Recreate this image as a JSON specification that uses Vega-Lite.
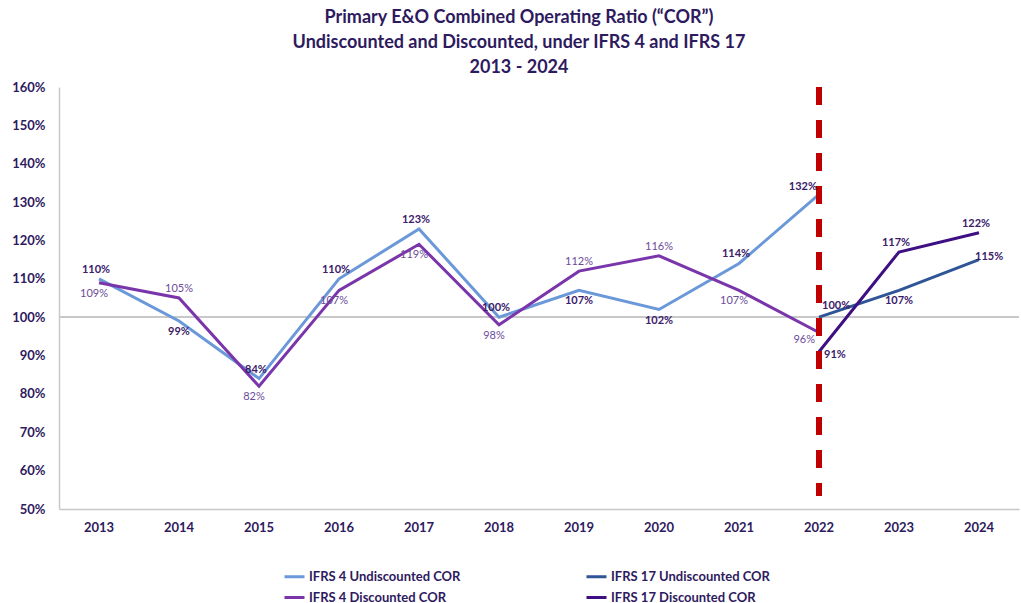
{
  "$schema": "https://vega.github.io/schema/vega-lite/v6.json",
  "width": 960,
  "height": 422,
  "autosize": {"type": "none"},
  "padding": {"left": 59, "top": 87, "right": 2, "bottom": 94},
  "background": "white",
  "title": {
    "text": ["Primary E&O Combined Operating Ratio (\u201cCOR\u201d)", "Undiscounted and Discounted, under IFRS 4 and IFRS 17", "2013 - 2024"],
    "font": "Lato",
    "fontSize": 18,
    "fontWeight": "bold",
    "color": "#2e1a5e",
    "lineHeight": 25,
    "anchor": "middle",
    "dx": -20,
    "offset": 4
  },
  "data": {
    "values": [
      {"year": "2013", "series": "IFRS 4 Undiscounted COR", "standard": "IFRS 4", "value": 110},
      {"year": "2014", "series": "IFRS 4 Undiscounted COR", "standard": "IFRS 4", "value": 99},
      {"year": "2015", "series": "IFRS 4 Undiscounted COR", "standard": "IFRS 4", "value": 84},
      {"year": "2016", "series": "IFRS 4 Undiscounted COR", "standard": "IFRS 4", "value": 110},
      {"year": "2017", "series": "IFRS 4 Undiscounted COR", "standard": "IFRS 4", "value": 123},
      {"year": "2018", "series": "IFRS 4 Undiscounted COR", "standard": "IFRS 4", "value": 100},
      {"year": "2019", "series": "IFRS 4 Undiscounted COR", "standard": "IFRS 4", "value": 107},
      {"year": "2020", "series": "IFRS 4 Undiscounted COR", "standard": "IFRS 4", "value": 102},
      {"year": "2021", "series": "IFRS 4 Undiscounted COR", "standard": "IFRS 4", "value": 114},
      {"year": "2022", "series": "IFRS 4 Undiscounted COR", "standard": "IFRS 4", "value": 132},
      {"year": "2013", "series": "IFRS 4 Discounted COR", "standard": "IFRS 4", "value": 109},
      {"year": "2014", "series": "IFRS 4 Discounted COR", "standard": "IFRS 4", "value": 105},
      {"year": "2015", "series": "IFRS 4 Discounted COR", "standard": "IFRS 4", "value": 82},
      {"year": "2016", "series": "IFRS 4 Discounted COR", "standard": "IFRS 4", "value": 107},
      {"year": "2017", "series": "IFRS 4 Discounted COR", "standard": "IFRS 4", "value": 119},
      {"year": "2018", "series": "IFRS 4 Discounted COR", "standard": "IFRS 4", "value": 98},
      {"year": "2019", "series": "IFRS 4 Discounted COR", "standard": "IFRS 4", "value": 112},
      {"year": "2020", "series": "IFRS 4 Discounted COR", "standard": "IFRS 4", "value": 116},
      {"year": "2021", "series": "IFRS 4 Discounted COR", "standard": "IFRS 4", "value": 107},
      {"year": "2022", "series": "IFRS 4 Discounted COR", "standard": "IFRS 4", "value": 96},
      {"year": "2022", "series": "IFRS 17 Undiscounted COR", "standard": "IFRS 17", "value": 100},
      {"year": "2023", "series": "IFRS 17 Undiscounted COR", "standard": "IFRS 17", "value": 107},
      {"year": "2024", "series": "IFRS 17 Undiscounted COR", "standard": "IFRS 17", "value": 115},
      {"year": "2022", "series": "IFRS 17 Discounted COR", "standard": "IFRS 17", "value": 91},
      {"year": "2023", "series": "IFRS 17 Discounted COR", "standard": "IFRS 17", "value": 117},
      {"year": "2024", "series": "IFRS 17 Discounted COR", "standard": "IFRS 17", "value": 122}
    ]
  },
  "transform": [
    {"joinaggregate": [{"op": "max", "field": "value", "as": "maxv"}], "groupby": ["year", "standard"]},
    {"calculate": "datum.value + '%'", "as": "label"}
  ],
  "encoding": {
    "x": {"field": "year", "type": "ordinal", "title": null, "axis": {"labelAngle": 0, "labelPadding": 12}},
    "y": {
      "field": "value", "type": "quantitative", "title": null,
      "scale": {"domain": [50, 160], "nice": false, "zero": false},
      "axis": {"values": [50, 60, 70, 80, 90, 100, 110, 120, 130, 140, 150, 160], "labelExpr": "datum.value + '%'", "labelPadding": 14, "labelOverlap": false, "labelFlush": false, "labelBound": false, "labelSeparation": 0}
    }
  },
  "layer": [
    {
      "mark": {"type": "rule", "color": "#c8c8c8", "strokeWidth": 1.5},
      "encoding": {"x": null, "y": {"datum": 100, "type": "quantitative"}}
    },
    {
      "mark": {"type": "line", "strokeWidth": 3},
      "encoding": {
        "color": {
          "field": "series", "type": "nominal",
          "scale": {
            "domain": ["IFRS 4 Undiscounted COR", "IFRS 4 Discounted COR", "IFRS 17 Undiscounted COR", "IFRS 17 Discounted COR"],
            "range": ["#6a98d8", "#7a35aa", "#2f5597", "#3d0f82"]
          },
          "legend": {
            "title": null,
            "orient": "none",
            "legendX": 224,
            "legendY": 478,
            "columns": 2,
            "columnPadding": 119,
            "rowPadding": 2,
            "symbolType": "stroke",
            "symbolSize": 400,
            "symbolStrokeWidth": 3,
            "labelOffset": 3,
            "labelFont": "Lato",
            "labelFontSize": 13,
            "labelFontWeight": "bold",
            "labelColor": "#2e1a5e",
            "labelLimit": 300
          }
        },
        "detail": {"field": "series"}
      }
    },
    {
      "mark": {"type": "rule", "color": "#c00000", "strokeWidth": 5, "strokeDash": [18, 15]},
      "encoding": {
        "x": {"datum": "2022", "type": "ordinal"},
        "y": {"datum": 160, "type": "quantitative"},
        "y2": {"datum": 53.5}
      }
    },
    {
      "transform": [{"filter": "datum.year != '2022' && datum.series != 'IFRS 4 Discounted COR' && datum.value == datum.maxv"}],
      "mark": {"type": "text", "font": "Lato", "fontSize": 11, "fontWeight": "bold", "color": "#3b2069", "dy": -9, "dx": -3},
      "encoding": {"text": {"field": "label", "type": "nominal"}}
    },
    {
      "transform": [{"filter": "datum.year != '2022' && datum.year != '2024' && datum.series != 'IFRS 4 Discounted COR' && datum.value < datum.maxv"}],
      "mark": {"type": "text", "font": "Lato", "fontSize": 11, "fontWeight": "bold", "color": "#3b2069", "dy": 11},
      "encoding": {"text": {"field": "label", "type": "nominal"}}
    },
    {
      "transform": [{"filter": "datum.year == '2024' && datum.series == 'IFRS 17 Undiscounted COR'"}],
      "mark": {"type": "text", "font": "Lato", "fontSize": 11, "fontWeight": "bold", "color": "#3b2069", "align": "left", "dx": -4, "dy": -3},
      "encoding": {"text": {"field": "label", "type": "nominal"}}
    },
    {
      "transform": [{"filter": "datum.year != '2022' && datum.series == 'IFRS 4 Discounted COR' && datum.value == datum.maxv"}],
      "mark": {"type": "text", "font": "Lato", "fontSize": 11, "color": "#6b4c9a", "dy": -9},
      "encoding": {"text": {"field": "label", "type": "nominal"}}
    },
    {
      "transform": [{"filter": "datum.year != '2022' && datum.series == 'IFRS 4 Discounted COR' && datum.value < datum.maxv"}],
      "mark": {"type": "text", "font": "Lato", "fontSize": 11, "color": "#6b4c9a", "dy": 11, "dx": -5},
      "encoding": {"text": {"field": "label", "type": "nominal"}}
    },
    {
      "transform": [{"filter": "datum.year == '2022' && datum.series == 'IFRS 4 Undiscounted COR'"}],
      "mark": {"type": "text", "font": "Lato", "fontSize": 11, "fontWeight": "bold", "color": "#3b2069", "align": "right", "dx": -2, "dy": -7},
      "encoding": {"text": {"field": "label", "type": "nominal"}}
    },
    {
      "transform": [{"filter": "datum.year == '2022' && datum.series == 'IFRS 4 Discounted COR'"}],
      "mark": {"type": "text", "font": "Lato", "fontSize": 11, "color": "#6b4c9a", "align": "right", "dx": -4, "dy": 7},
      "encoding": {"text": {"field": "label", "type": "nominal"}}
    },
    {
      "transform": [{"filter": "datum.year == '2022' && datum.series == 'IFRS 17 Undiscounted COR'"}],
      "mark": {"type": "text", "font": "Lato", "fontSize": 11, "fontWeight": "bold", "color": "#3b2069", "align": "left", "dx": 3, "dy": -11},
      "encoding": {"text": {"field": "label", "type": "nominal"}}
    },
    {
      "transform": [{"filter": "datum.year == '2022' && datum.series == 'IFRS 17 Discounted COR'"}],
      "mark": {"type": "text", "font": "Lato", "fontSize": 11, "fontWeight": "bold", "color": "#3b2069", "align": "left", "dx": 5, "dy": 3},
      "encoding": {"text": {"field": "label", "type": "nominal"}}
    }
  ],
  "config": {
    "view": {"stroke": null},
    "axis": {
      "domainColor": "#c8c8c8",
      "domainWidth": 1.5,
      "ticks": false,
      "grid": false,
      "labelFont": "Lato",
      "labelFontSize": 13,
      "labelFontWeight": "bold",
      "labelColor": "#2e1a5e"
    },
    "axisY": {"labelOverlap": false}
  }
}
